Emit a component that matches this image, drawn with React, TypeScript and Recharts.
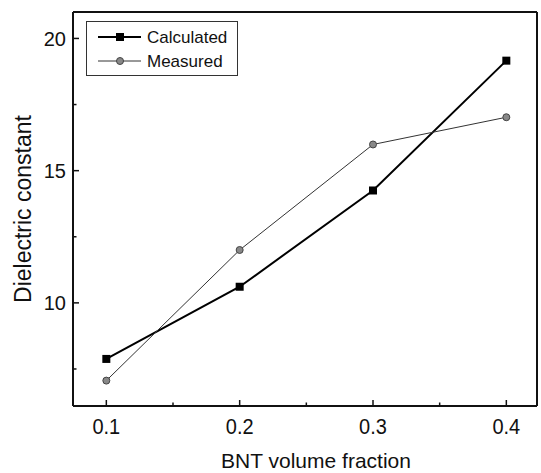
import { LineChart, Line, XAxis, YAxis, Legend } from "recharts"

const fractions = [0.1, 0.2, 0.3, 0.4]
const calculated = [7.88, 10.61, 14.25, 19.16]
const measured = [7.06, 12.0, 15.99, 17.02]
const xTicks = [0.1, 0.15, 0.2, 0.25, 0.3, 0.35, 0.4]
const yTicks = [7.5, 10, 12.5, 15, 17.5, 20]

const data = fractions.map((f, i) => ({
  fraction: f,
  calculated: calculated[i],
  measured: measured[i],
}))

const font = "'Liberation Sans', Arial, sans-serif"

const isMajor = (v: number, step: number) =>
  Math.abs(v / step - Math.round(v / step)) < 1e-6

function XTick(props: any) {
  const { x, y, payload } = props
  const major = isMajor(payload.value, 0.1)
  return (
    <g>
      <line x1={x} x2={x} y1={y} y2={y - (major ? 6 : 3.5)} stroke="#111" strokeWidth={1.5} />
      {major && (
        <text
          x={x}
          y={y + 28}
          textAnchor="middle"
          fontSize={20}
          fontFamily={font}
          fill="#111"
          transform={`translate(0 ${-(y + 28) * 0.08}) scale(1 1.08)`}
        >
          {payload.value.toFixed(1)}
        </text>
      )}
    </g>
  )
}

function YTick(props: any) {
  const { x, y, payload } = props
  const major = isMajor(payload.value, 5)
  return (
    <g>
      <line x1={x} x2={x + (major ? 6 : 3.5)} y1={y} y2={y} stroke="#111" strokeWidth={1.5} />
      {major && (
        <text
          x={x - 7}
          y={y}
          dy="0.36em"
          textAnchor="end"
          fontSize={20}
          fontFamily={font}
          fill="#111"
        >
          {payload.value}
        </text>
      )}
    </g>
  )
}

function SquareDot(props: any) {
  const { cx, cy } = props
  return <rect x={cx - 4} y={cy - 4} width={8} height={8} fill="#000" />
}

function RoundDot(props: any) {
  const { cx, cy } = props
  return <circle cx={cx} cy={cy} r={3.5} fill="#888" stroke="#444" strokeWidth={1} />
}

function YLabel(props: any) {
  const { viewBox } = props
  const cy = viewBox.y + viewBox.height / 2
  return (
    <text
      x={31}
      y={cy}
      transform={`rotate(-90 31 ${cy})`}
      textAnchor="middle"
      fontSize={23}
      fontFamily={font}
      fill="#111"
    >
      Dielectric constant
    </text>
  )
}

function LegendBox() {
  return (
    <svg width={152} height={55} style={{ display: "block", border: "1px solid #333", boxSizing: "border-box" }}>
      <line x1={11} x2={54} y1={15} y2={15} stroke="#000" strokeWidth={2} />
      <rect x={29} y={11} width={8} height={8} fill="#000" />
      <text x={60} y={15} dy="0.36em" fontSize={17} fontFamily={font} fill="#111">
        Calculated
      </text>
      <line x1={11} x2={54} y1={39} y2={39} stroke="#333" strokeWidth={1} />
      <circle cx={33} cy={39} r={3.5} fill="#888" stroke="#444" />
      <text x={60} y={39} dy="0.36em" fontSize={17} fontFamily={font} fill="#111">
        Measured
      </text>
    </svg>
  )
}

export default function App() {
  return (
    <div style={{ position: "absolute", left: 0, top: 0 }}>
      <LineChart
        width={541}
        height={473}
        data={data}
        margin={{ top: 11, right: 3, bottom: 0, left: 0 }}
      >
        <XAxis
          dataKey="fraction"
          type="number"
          domain={[0.075, 0.423]}
          allowDataOverflow
          ticks={xTicks}
          interval={0}
          tickSize={0}
          tickMargin={0}
          tickLine={false}
          tick={<XTick />}
          height={67}
          axisLine={{ stroke: "#111", strokeWidth: 2 }}
          label={{
            value: "BNT volume fraction",
            position: "insideBottom",
            offset: 5,
            dx: 11,
            fontSize: 21,
            fontFamily: font,
            fill: "#111",
          }}
        />
        <XAxis
          xAxisId="top"
          orientation="top"
          type="number"
          domain={[0.075, 0.423]}
          allowDataOverflow
          ticks={[]}
          tick={false}
          tickLine={false}
          height={1}
          axisLine={{ stroke: "#111", strokeWidth: 2 }}
        />
        <YAxis
          type="number"
          domain={[6.1, 21]}
          allowDataOverflow
          ticks={yTicks}
          interval={0}
          tickSize={0}
          tickMargin={0}
          tickLine={false}
          tick={<YTick />}
          width={73}
          axisLine={{ stroke: "#111", strokeWidth: 2 }}
          label={<YLabel />}
        />
        <YAxis
          yAxisId="right"
          orientation="right"
          type="number"
          domain={[6.1, 21]}
          allowDataOverflow
          ticks={[]}
          tick={false}
          tickLine={false}
          width={1}
          axisLine={{ stroke: "#111", strokeWidth: 2 }}
        />
        <Legend
          layout="vertical"
          align="center"
          verticalAlign="middle"
          wrapperStyle={{ left: 86, top: 21, width: 152, height: 55 }}
          content={<LegendBox />}
        />
        <Line
          dataKey="calculated"
          name="Calculated"
          stroke="#000"
          strokeWidth={2}
          dot={<SquareDot />}
          isAnimationActive={false}
        />
        <Line
          dataKey="measured"
          name="Measured"
          stroke="#333"
          strokeWidth={1}
          dot={<RoundDot />}
          isAnimationActive={false}
        />
      </LineChart>
    </div>
  )
}
